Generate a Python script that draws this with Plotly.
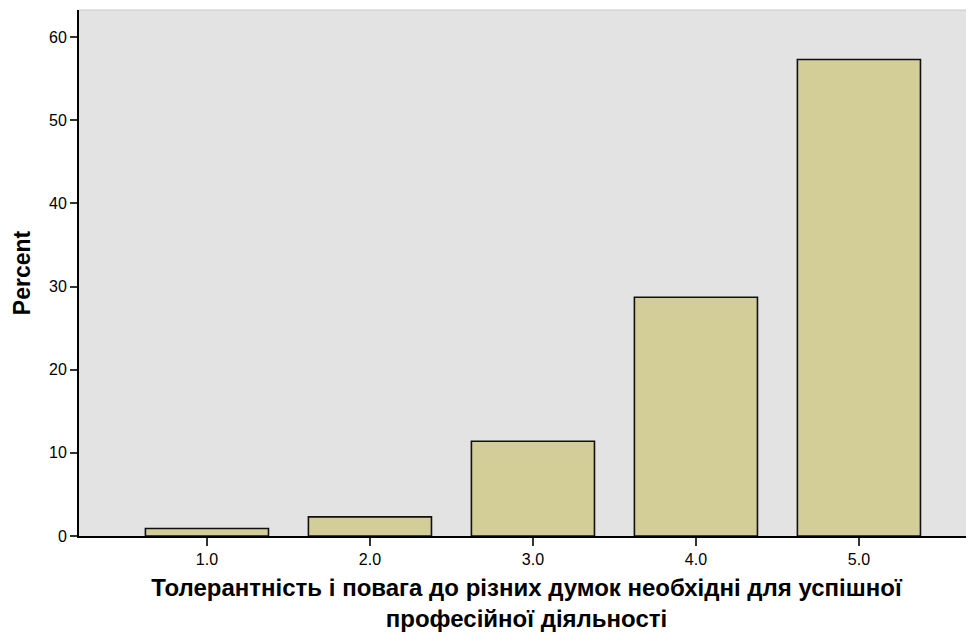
import plotly.graph_objects as go

categories = ["1.0", "2.0", "3.0", "4.0", "5.0"]
positions = [1, 2, 3, 4, 5]
percent = [0.9, 2.3, 11.4, 28.7, 57.3]
y_ticks = [0, 10, 20, 30, 40, 50, 60]

fig = go.Figure()
fig.add_trace(go.Bar(
    x=positions, y=percent, width=0.755,
    marker=dict(color="#d3ce97", line=dict(color="#111111", width=1.6)),
    hoverinfo="x+y",
))

fig.update_layout(
    width=966, height=636,
    margin=dict(l=71, r=0, t=2, b=108),
    paper_bgcolor="white", plot_bgcolor="#e3e3e3",
    showlegend=False,
    font=dict(family="Liberation Sans, Arial, sans-serif", color="black"),
    xaxis=dict(
        range=[0.215, 5.706], tickvals=positions, ticktext=categories,
        showgrid=False, zeroline=False,
        showline=True, linecolor="black", linewidth=2,
        ticks="outside", ticklen=8, tickwidth=2, tickcolor="#333333",
        tickfont=dict(size=16, family="Liberation Sans, Arial, sans-serif"),
        title=dict(
            text="Толерантність і повага до різних думок необхідні для успішної<br>професійної діяльності",
            font=dict(size=24, family="Liberation Sans Narrow, Arial Narrow, Liberation Sans, sans-serif", weight="bold"),
            standoff=12,
        ),
    ),
    yaxis=dict(
        range=[0, 63.25], tickvals=y_ticks,
        showgrid=False, zeroline=False,
        showline=True, linecolor="black", linewidth=2,
        ticks="outside", ticklen=7, tickwidth=2, tickcolor="#333333",
        tickfont=dict(size=16, family="Liberation Sans, Arial, sans-serif"),
        title=dict(text="Percent", font=dict(size=23, weight="bold"), standoff=12),
    ),
    shapes=[dict(type="line", xref="paper", yref="paper", x0=0, x1=1, y0=1, y1=1,
                 line=dict(color="#c8c8c8", width=1))],
)

fig.write_html("out.html")
